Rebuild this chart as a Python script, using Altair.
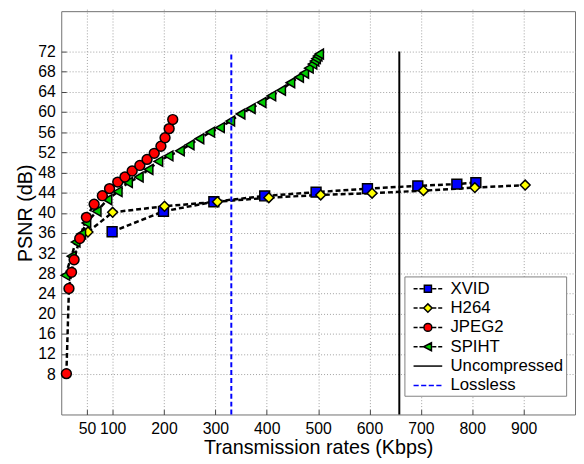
import altair as alt
import pandas as pd

# ---------------- data ----------------
series_names = ["XVID", "H264", "JPEG2", "SPIHT"]
series_colors = ["#0000FF", "#FFFF00", "#FF0000", "#00CC00"]
series_shapes = ["square", "diamond", "circle", "triangle-left"]

xvid_rate = [99, 199, 297, 396, 496, 596, 694, 770, 807]
xvid_psnr = [36.25, 40.3, 42.2, 43.35, 44.1, 44.8, 45.35, 45.7, 46.0]

h264_rate = [52, 100, 201, 304, 404, 505, 605, 705, 805, 903]
h264_psnr = [36.2, 40.1, 41.3, 42.2, 43.0, 43.55, 43.9, 44.4, 45.0, 45.5]

jpeg2_rate = [10, 15, 20, 25, 36, 49, 64, 80, 94, 110, 124, 138, 153, 167,
              181, 194, 202, 210, 217]
jpeg2_psnr = [8.1, 25.0, 28.2, 30.7, 34.9, 39.1, 41.7, 43.4, 44.8, 46.1, 47.1,
              48.3, 49.4, 50.6, 51.8, 53.2, 54.9, 56.7, 58.5]

spiht_rate = [8, 20, 28, 39, 49, 69, 90, 110, 130, 151, 170, 189, 209, 231,
              250, 269, 290, 309, 329, 349, 369, 390, 409, 428, 446, 463, 473,
              482, 489, 493, 496, 499, 502]
spiht_psnr = [27.6, 31.4, 34.2, 35.8, 38.0, 40.3, 42.6, 44.2, 46.0, 47.1, 48.6,
              50.2, 51.3, 52.3, 53.5, 54.7, 56.0, 56.9, 58.2, 59.6, 60.7, 61.9,
              63.2, 64.3, 65.8, 66.9, 67.7, 68.7, 69.5, 70.1, 70.6, 71.1, 71.5]

rule_names = ["Uncompressed", "Lossless"]
rule_rate = [658, 331]
rule_bottom = [0, 0]
rule_top = [72, 72]

x_ticks = [50, 100, 200, 300, 400, 500, 600, 700, 800, 900]
y_ticks = [8, 12, 16, 20, 24, 28, 32, 36, 40, 44, 48, 52, 56, 60, 64, 68, 72]

legend_names = ["XVID", "H264", "JPEG2", "SPIHT", "Uncompressed", "Lossless"]
legend_fills = series_colors + ["transparent", "transparent"]
legend_strokes = ["black", "black", "black", "black", "black", "#0000FF"]
dash_l = "M-1.53,0H-1.1M-0.9,0H-0.47"
dash_r = "M0.47,0H0.9M1.1,0H1.53"
legend_paths = [
    dash_l + dash_r + "M-0.38,-0.38H0.38V0.38H-0.38Z",
    dash_l + dash_r + "M-0.45,0L0,-0.45L0.45,0L0,0.45Z",
    dash_l + dash_r + "M-0.42,0A0.42,0.42 0 1,0 0.42,0A0.42,0.42 0 1,0 -0.42,0Z",
    dash_l + dash_r + "M-0.45,0L0.38,-0.42L0.38,0.42Z",
    "M-1.53,0H1.53",
    "M-1.53,0H-0.98M-0.72,0H-0.17M0.09,0H0.64M0.9,0H1.45",
]

# ---------------- tables ----------------
rows = []
for name, rates, psnrs in zip(series_names,
                              [xvid_rate, h264_rate, jpeg2_rate, spiht_rate],
                              [xvid_psnr, h264_psnr, jpeg2_psnr, spiht_psnr]):
    for i, (r, p) in enumerate(zip(rates, psnrs)):
        rows.append({"series": name, "rate": r, "psnr": p, "idx": i})
df = pd.DataFrame(rows)

rules_df = pd.DataFrame({"name": rule_names, "rate": rule_rate,
                         "psnr": rule_bottom, "top": rule_top})
legend_df = pd.DataFrame({"name": legend_names})

FONT = "Liberation Sans"

x_scale = alt.Scale(domain=[0, 1000], nice=False, zero=False)
y_scale = alt.Scale(domain=[0, 80], nice=False)
x_axis = alt.Axis(values=x_ticks, title="Transmission rates (Kbps)",
                  labelOverlap=False, labelFlush=False)
y_axis = alt.Axis(values=y_ticks, title="PSNR (dB)",
                  labelOverlap=False, labelFlush=False)

x_enc = alt.X("rate:Q", scale=x_scale, axis=x_axis)
y_enc = alt.Y("psnr:Q", scale=y_scale, axis=y_axis)

lines = alt.Chart(df).mark_line(
    color="black", strokeWidth=2.5, strokeDash=[5, 3]
).encode(
    x=x_enc, y=y_enc, detail="series:N", order="idx:Q"
)

points = alt.Chart(df).mark_point(
    filled=True, opacity=1, stroke="black", strokeWidth=1.5, size=100
).encode(
    x=x_enc, y=y_enc,
    shape=alt.Shape("series:N", scale=alt.Scale(domain=series_names, range=series_shapes), legend=None),
    fill=alt.Fill("series:N", scale=alt.Scale(domain=series_names, range=series_colors), legend=None),
    order="idx:Q",
)

rule_unc = alt.Chart(rules_df).transform_filter(
    alt.datum.name == "Uncompressed"
).mark_rule(color="black", strokeWidth=2).encode(
    x=x_enc, y=y_enc, y2="top:Q"
)
rule_loss = alt.Chart(rules_df).transform_filter(
    alt.datum.name == "Lossless"
).mark_rule(color="#0000FF", strokeWidth=2, strokeDash=[5, 3]).encode(
    x=x_enc, y=y_enc, y2="top:Q"
)

leg = alt.Legend(
    orient="none", legendX=348, legendY=269, title=None,
    padding=2, symbolSize=361, symbolOffset=11.3, labelOffset=12.4,
    rowPadding=0.6, labelFontSize=17, labelFont=FONT, labelColor="black",
    strokeColor="#808080", fillColor="white", symbolOpacity=1,
    symbolStrokeWidth=1.5, cornerRadius=0,
)

legend_layer = alt.Chart(legend_df).mark_point(
    filled=True, opacity=0, size=361
).encode(
    shape=alt.Shape("name:N", scale=alt.Scale(domain=legend_names, range=legend_paths), legend=leg),
    fill=alt.Fill("name:N", scale=alt.Scale(domain=legend_names, range=legend_fills), legend=leg),
    stroke=alt.Stroke("name:N", scale=alt.Scale(domain=legend_names, range=legend_strokes), legend=leg),
)

chart = alt.layer(lines, points, rule_unc, rule_loss, legend_layer).resolve_scale(
    shape="independent", fill="independent", stroke="independent"
).properties(
    width=521, height=409,
    autosize=alt.AutoSizeParams(type="none"),
    padding={"left": 54, "top": 0, "right": 1, "bottom": 47},
).configure(
    font=FONT,
).configure_view(
    stroke="#707070", strokeWidth=1,
).configure_axis(
    grid=True, gridColor="#a0a0a0", gridDash=[1, 2], gridWidth=1,
    domain=False, ticks=True, tickSize=5, tickColor="#404040", tickWidth=1,
    offset=-5, labelOverlap=False,
    labelFontSize=16, labelColor="black", labelFont=FONT, labelPadding=6,
    titleFontSize=20, titleFontWeight="normal", titleColor="black", titleFont=FONT,
    titlePadding=2,
)

chart.save("out.html", embed_options={"renderer": "svg", "actions": False})
